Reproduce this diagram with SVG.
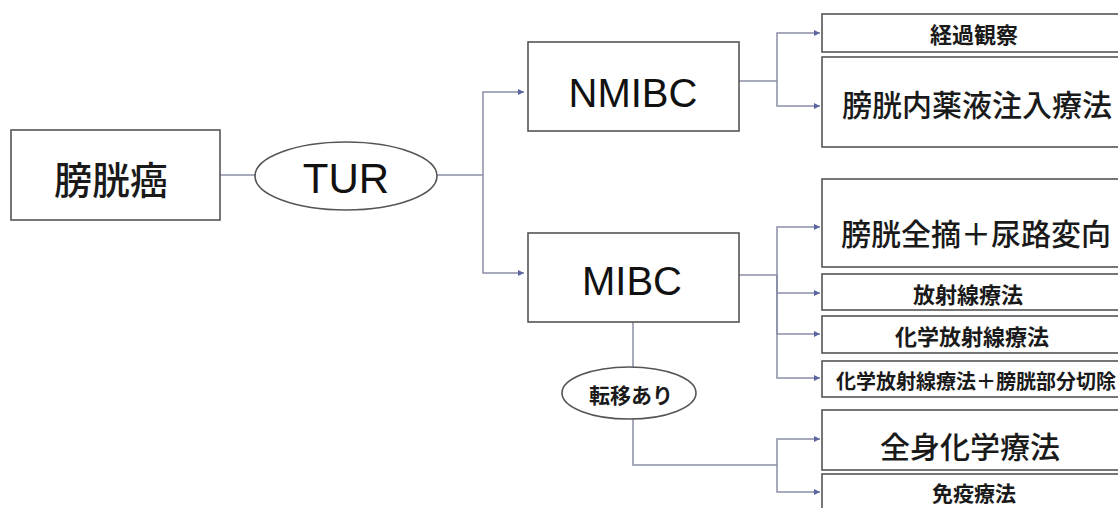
<svg xmlns="http://www.w3.org/2000/svg" width="1118" height="508" viewBox="0 0 1118 508">
<style>
.box{fill:#fff;stroke:#555;stroke-width:1.6}
.ell{fill:#fff;stroke:#555;stroke-width:1.6}
.jp{font-family:"Noto Sans CJK JP","Noto Sans CJK SC",sans-serif;font-weight:500;fill:#1a1a1a;text-anchor:middle;dominant-baseline:central}
.sm{font-weight:700}
.en{font-family:"Liberation Sans",Arial,sans-serif;fill:#111;text-anchor:middle;dominant-baseline:central}
.c{fill:none;stroke:#8a8fa6;stroke-width:1.5}
.a{marker-end:url(#arr)}
</style>
<defs>
<marker id="arr" markerUnits="userSpaceOnUse" markerWidth="7" markerHeight="7" refX="6" refY="3.5" orient="auto">
<path d="M0,0.5 L6,3.5 L0,6.5 Z" fill="#5a64a0"/>
</marker>
</defs>
<g id="connectors">
<path class="c" d="M220,175 H255"/>
<path class="c" d="M437,175 H483"/>
<path class="c a" d="M483,175 V92 H524"/>
<path class="c a" d="M483,175 V273 H524"/>
<path class="c" d="M739,81 H777"/>
<path class="c a" d="M777,81 V33 H820"/>
<path class="c a" d="M777,81 V106 H820"/>
<path class="c" d="M739,275 H777"/>
<path class="c a" d="M777,275 V227 H820"/>
<path class="c a" d="M777,275 V293 H820"/>
<path class="c a" d="M777,275 V334 H820"/>
<path class="c a" d="M777,275 V378 H820"/>
<path class="c" d="M633,322 V367"/>
<path class="c" d="M633,419 V465 H777"/>
<path class="c a" d="M777,465 V439 H820"/>
<path class="c a" d="M777,465 V492 H820"/>
</g>
<g id="n-bladder"><rect class="box" x="11" y="130" width="209" height="90"/><text class="jp" x="111" y="177" font-size="38">膀胱癌</text></g>
<g id="n-tur"><ellipse class="ell" cx="346" cy="176" rx="91" ry="34"/><text class="en" x="346" y="178" font-size="42">TUR</text></g>
<g id="n-nmibc"><rect class="box" x="528" y="42" width="211" height="89"/><text class="en" x="633" y="93" font-size="40">NMIBC</text></g>
<g id="n-mibc"><rect class="box" x="528" y="233" width="211" height="89"/><text class="en" x="632" y="281" font-size="40">MIBC</text></g>
<g id="n-meta"><ellipse class="ell" cx="629" cy="393" rx="67" ry="26"/><text class="jp sm" x="631" y="394" font-size="21">転移あり</text></g>
<g id="n-obs"><rect class="box" x="822" y="14" width="304" height="38"/><text class="jp sm" x="974" y="33" font-size="22">経過観察</text></g>
<g id="n-intravesical"><rect class="box" x="822" y="57" width="304" height="90"/><text class="jp" x="977" y="103" font-size="30">膀胱内薬液注入療法</text></g>
<g id="n-cystectomy"><rect class="box" x="822" y="179" width="304" height="88"/><text class="jp" x="976" y="232" font-size="30">膀胱全摘＋尿路変向</text></g>
<g id="n-radio"><rect class="box" x="822" y="274" width="304" height="36"/><text class="jp sm" x="968" y="293" font-size="22">放射線療法</text></g>
<g id="n-chemoradio"><rect class="box" x="822" y="316" width="304" height="37"/><text class="jp sm" x="972" y="335" font-size="22">化学放射線療法</text></g>
<g id="n-partial"><rect class="box" x="822" y="361" width="304" height="36"/><text class="jp sm" x="976" y="380" font-size="20">化学放射線療法＋膀胱部分切除</text></g>
<g id="n-systemic"><rect class="box" x="822" y="410" width="304" height="60"/><text class="jp" x="970" y="445" font-size="30">全身化学療法</text></g>
<g id="n-immuno"><rect class="box" x="822" y="474" width="304" height="45"/><text class="jp sm" x="974" y="492" font-size="21">免疫療法</text></g>
</svg>
